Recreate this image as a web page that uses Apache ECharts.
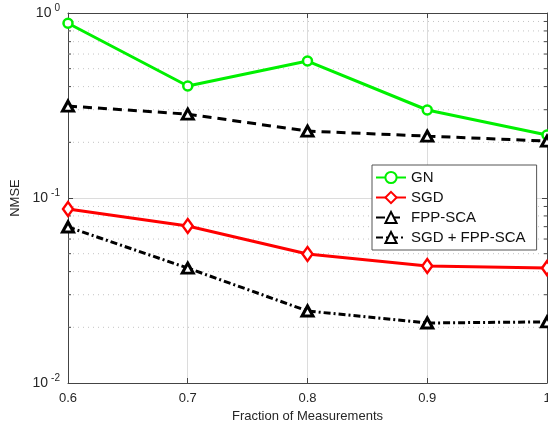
<!DOCTYPE html>
<html>
<head>
<meta charset="utf-8">
<script src="https://cdn.jsdelivr.net/npm/echarts@6/dist/echarts.min.js"></script>
<style>
  html, body { margin: 0; padding: 0; background: #fff; }
  #chart { width: 548px; height: 430px; }
</style>
</head>
<body>
<div id="chart"></div>
<script>
// data
var fractions = [0.6, 0.7, 0.8, 0.9, 1.0]
var gn = [0.88, 0.403, 0.55, 0.299, 0.219]
var sgd = [0.0872, 0.0706, 0.0498, 0.0429, 0.0418]
var fppSca = [0.314, 0.284, 0.230, 0.216, 0.203]
var sgdFpp = [0.0697, 0.0418, 0.0245, 0.0211, 0.0214]
// minor grid positions of the log axis
var minorVals = [0.02, 0.03, 0.04, 0.05, 0.06, 0.07, 0.08, 0.09,
  0.2, 0.3, 0.4, 0.5, 0.6, 0.7, 0.8, 0.9]

var font = 'Liberation Sans, Arial, sans-serif'
var axisColor = '#444'

function pairs (ys) {
  return fractions.map(function (x, i) { return [x, ys[i]] })
}

var myChart = echarts.init(document.getElementById('chart'))

var option = {
  backgroundColor: '#fff',
  animation: false,
  textStyle: { fontFamily: font },
  grid: { left: 68, right: 1, top: 13, bottom: 47, outerBoundsMode: 'none', containLabel: false },
  legend: {
    orient: 'vertical',
    left: 372,
    top: 165,
    padding: [5, 11, 5, 3],
    itemGap: 5,
    itemWidth: 30,
    itemHeight: 14,
    backgroundColor: '#fff',
    borderColor: '#555',
    borderWidth: 1,
    borderRadius: 0,
    textStyle: { fontSize: 15, color: '#111', fontFamily: font },
    data: ['GN', 'SGD', 'FPP-SCA', 'SGD + FPP-SCA']
  },
  xAxis: [{
    type: 'value',
    min: 0.6,
    max: 1,
    interval: 0.1,
    name: 'Fraction of Measurements',
    nameLocation: 'middle',
    nameGap: 26,
    nameTextStyle: { fontSize: 13, color: '#262626' },
    axisLine: { lineStyle: { color: axisColor } },
    axisTick: { inside: true, length: 5, lineStyle: { color: axisColor } },
    axisLabel: {
      fontSize: 13,
      color: '#262626',
      margin: 9,
      formatter: function (v) { return String(+v.toFixed(1)) }
    },
    splitLine: { show: true, lineStyle: { color: '#dcdcdc', width: 1 } }
  }, {
    type: 'value',
    position: 'top',
    min: 0.6,
    max: 1,
    interval: 0.1,
    axisLine: { lineStyle: { color: axisColor } },
    axisTick: { inside: true, length: 5, lineStyle: { color: axisColor } },
    axisLabel: { show: false },
    splitLine: { show: false }
  }],
  yAxis: [{
    type: 'log',
    logBase: 10,
    min: 0.01,
    max: 1,
    interval: 1,
    name: 'NMSE',
    nameLocation: 'middle',
    nameGap: 40,
    nameTextStyle: { fontSize: 13, color: '#262626' },
    axisLine: { show: true, lineStyle: { color: axisColor } },
    axisTick: { inside: true, length: 5, lineStyle: { color: axisColor } },
    axisLabel: {
      margin: 8,
      formatter: function (v) {
        var e = Math.round(Math.log10(v))
        return '{b|10}{s|' + e + '}'
      },
      rich: {
        b: { fontSize: 14, color: '#262626', fontFamily: font },
        s: { fontSize: 10, color: '#262626', fontFamily: font, verticalAlign: 'bottom', padding: [0, 0, 9, 3] }
      }
    },
    splitLine: { show: true, lineStyle: { color: '#dcdcdc', width: 1 } }
  }, {
    type: 'log',
    logBase: 10,
    min: 0.01,
    max: 1,
    interval: 1,
    position: 'right',
    axisLine: { show: true, lineStyle: { color: axisColor } },
    axisTick: { inside: true, length: 5, lineStyle: { color: axisColor } },
    axisLabel: { show: false },
    splitLine: { show: false }
  }],
  series: [
    {
      // minor dotted grid + minor ticks on both sides
      type: 'custom',
      silent: true,
      z: 1,
      xAxisIndex: 0,
      yAxisIndex: 0,
      data: minorVals.map(function (v) { return [0.6, v] }),
      renderItem: function (params, api) {
        var v = api.value(1)
        var a = api.coord([0.6, v])
        var b = api.coord([1, v])
        return {
          type: 'group',
          children: [{
            type: 'line',
            shape: { x1: a[0], y1: a[1], x2: b[0], y2: b[1] },
            style: { stroke: '#c4c4c4', lineWidth: 1, lineDash: [1, 4] }
          }, {
            type: 'line',
            shape: { x1: a[0], y1: a[1], x2: a[0] + 3, y2: a[1] },
            style: { stroke: axisColor, lineWidth: 1 }
          }, {
            type: 'line',
            shape: { x1: b[0] - 3, y1: b[1], x2: b[0], y2: b[1] },
            style: { stroke: axisColor, lineWidth: 1 }
          }]
        }
      }
    },
    {
      name: 'GN',
      type: 'line',
      data: pairs(gn),
      symbol: 'circle',
      symbolSize: 9,
      z: 3,
      lineStyle: { color: '#00f000', width: 3 },
      itemStyle: { color: '#fff', borderColor: '#00f000', borderWidth: 2.5 }
    },
    {
      name: 'SGD',
      type: 'line',
      data: pairs(sgd),
      symbol: 'diamond',
      symbolSize: [10, 14],
      z: 3,
      lineStyle: { color: '#ff0000', width: 3 },
      itemStyle: { color: '#fff', borderColor: '#ff0000', borderWidth: 2.5 }
    },
    {
      name: 'FPP-SCA',
      type: 'line',
      data: pairs(fppSca),
      symbol: 'triangle',
      symbolSize: [11, 10],
      z: 3,
      lineStyle: { color: '#000', width: 3, type: [9, 6] },
      itemStyle: { color: '#fff', borderColor: '#000', borderWidth: 3 }
    },
    {
      name: 'SGD + FPP-SCA',
      type: 'line',
      data: pairs(sgdFpp),
      symbol: 'triangle',
      symbolSize: [11, 10],
      z: 3,
      lineStyle: { color: '#000', width: 3, type: [7, 3, 2, 3] },
      itemStyle: { color: '#fff', borderColor: '#000', borderWidth: 3 }
    }
  ]
}

myChart.setOption(option)
</script>
</body>
</html>
